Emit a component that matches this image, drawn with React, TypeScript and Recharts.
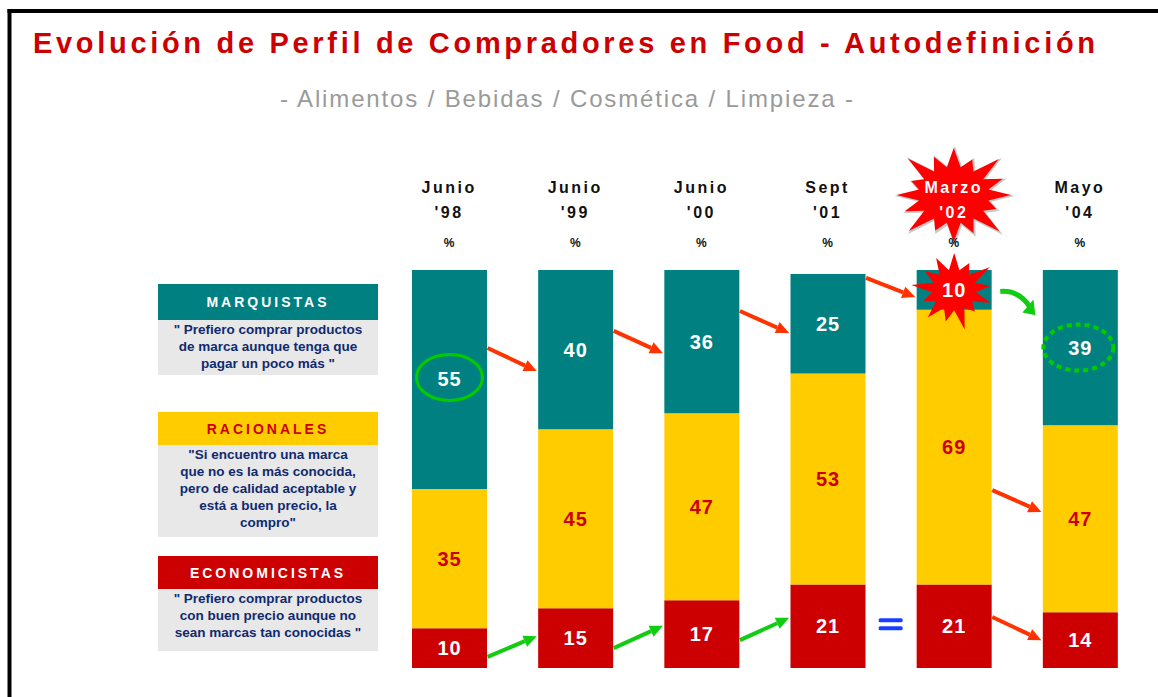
import React from "react"
import { Bar, BarChart, XAxis, YAxis, LabelList } from "recharts"

// datos
const periods = ["Junio '98", "Junio '99", "Junio '00", "Sept '01", "Marzo '02", "Mayo '04"]
const marquistas = [55, 40, 36, 25, 10, 39]
const racionales = [35, 45, 47, 53, 69, 47]
const economicistas = [10, 15, 17, 21, 21, 14]

const TEAL = "#008080"
const YELLOW = "#ffcc00"
const RED = "#cc0000"
const NAVY = "#0f2a70"
const FONT = "'Liberation Sans', Arial, sans-serif"

const data = periods.map((p, i) => ({
  period: p,
  marquistas: marquistas[i],
  racionales: racionales[i],
  economicistas: economicistas[i],
}))

// geometria del area de dibujo
const W = 1158
const H = 697
const PLOT_LEFT = 386
const PLOT_RIGHT = 1143
const PLOT_TOP = 270
const PLOT_BOTTOM = 668
const BAR_W = 75
const STEP = (PLOT_RIGHT - PLOT_LEFT) / periods.length
const barLeft = (i: number) => PLOT_LEFT + STEP * i + (STEP - BAR_W) / 2
const barRight = (i: number) => barLeft(i) + BAR_W
const yPx = (v: number) => PLOT_BOTTOM - (v / 100) * (PLOT_BOTTOM - PLOT_TOP)

// flechas de tendencia (de la barra i a la i+1, alturas en % del eje)
const arrows = [
  { from: 0, y0: 80.4, y1: 74.6, color: "#ff3300" },
  { from: 1, y0: 84.7, y1: 79.1, color: "#ff3300" },
  { from: 2, y0: 89.7, y1: 84.2, color: "#ff3300" },
  { from: 3, y0: 98.0, y1: 93.2, color: "#ff3300" },
  { from: 4, y0: 44.7, y1: 39.2, color: "#ff3300" },
  { from: 4, y0: 12.8, y1: 7.0, color: "#ff3300" },
  { from: 0, y0: 2.8, y1: 8.0, color: "#11cc11" },
  { from: 1, y0: 5.0, y1: 10.6, color: "#11cc11" },
  { from: 2, y0: 7.0, y1: 12.6, color: "#11cc11" },
]

const legends = [
  { title: "MARQUISTAS", bg: TEAL, fg: "#fff", top: 284, head: 36, body: 55,
    text: ["\" Prefiero comprar productos", "de marca aunque tenga que", "pagar un poco más \""] },
  { title: "RACIONALES", bg: YELLOW, fg: RED, top: 412, head: 33, body: 92,
    text: ["\"Si encuentro una marca", "que no es la más conocida,", "pero de calidad aceptable y", "está a buen precio, la", "compro\""] },
  { title: "ECONOMICISTAS", bg: RED, fg: "#fff", top: 556, head: 33, body: 62,
    text: ["\" Prefiero comprar productos", "con buen precio aunque no", "sean marcas tan conocidas \""] },
]

function starPoints(cx: number, cy: number, rx: number, ry: number, n: number, inner: number) {
  const wobble = [1, 0.82, 1.08, 0.9, 0.97, 0.78, 1.1, 0.88]
  const pts: string[] = []
  for (let k = 0; k < n * 2; k++) {
    const a = (Math.PI * k) / n - Math.PI / 2
    const r = k % 2 === 0 ? wobble[(k / 2) % wobble.length] : inner
    pts.push(`${cx + Math.cos(a) * rx * r},${cy + Math.sin(a) * ry * r}`)
  }
  return pts.join(" ")
}

const PeriodTick = (props: any) => {
  const { x, y, payload, index } = props
  const [l1, l2] = String(payload.value).split(" ")
  const special = index === 4
  const color = special ? "#fff" : "#111"
  return (
    <g>
      {special && (
        <>
          <polygon points={starPoints(x + 1, y - 66, 62, 50, 16, 0.6)} fill="#c8c8c8" />
          <polygon points={starPoints(x, y - 67, 59, 47, 16, 0.6)} fill="#ff0000" />
        </>
      )}
      <text x={x} y={y - 69} textAnchor="middle" fontFamily={FONT} fontWeight="bold" fontSize={16} letterSpacing={2.5} fill={color}>
        {l1}
      </text>
      <text x={x} y={y - 44} textAnchor="middle" fontFamily={FONT} fontWeight="bold" fontSize={16} letterSpacing={2.5} fill={color}>
        {l2}
      </text>
      <text x={x} y={y - 15} textAnchor="middle" fontFamily={FONT} fontWeight="bold" fontSize={12} fill="#111">
        %
      </text>
    </g>
  )
}

const makeLabel = (series: string, color: string) => (props: any) => {
  const { x, y, width, height, value, index } = props
  const cx = x + width / 2
  const cy = y + height / 2
  return (
    <g>
      {series === "m" && index === 4 && (
        <polygon points={starPoints(cx, cy, 40, 37, 13, 0.55)} fill="#ff0000" />
      )}
      {series === "m" && index === 0 && (
        <ellipse cx={cx} cy={cy - 2} rx={33} ry={23} fill="none" stroke="#00cc00" strokeWidth={3} />
      )}
      {series === "m" && index === 5 && (
        <ellipse cx={cx - 2} cy={cy} rx={35} ry={23} fill="none" stroke="#00cc00" strokeWidth={4} strokeDasharray="5 4" />
      )}
      <text x={cx} y={cy + 7} textAnchor="middle" fontFamily={FONT} fontWeight="bold" fontSize={20} letterSpacing={1} fill={color}>
        {value}
      </text>
    </g>
  )
}

function Arrow({ x0, y0, x1, y1, color }: { x0: number; y0: number; x1: number; y1: number; color: string }) {
  const ang = Math.atan2(y1 - y0, x1 - x0)
  const len = 13
  const bx = x1 - Math.cos(ang) * len
  const by = y1 - Math.sin(ang) * len
  const px = -Math.sin(ang) * 6
  const py = Math.cos(ang) * 6
  return (
    <g>
      <line x1={x0} y1={y0} x2={bx} y2={by} stroke={color} strokeWidth={4} />
      <polygon points={`${x1},${y1} ${bx + px},${by + py} ${bx - px},${by - py}`} fill={color} />
    </g>
  )
}

export default function App() {
  return (
    <div style={{ position: "absolute", left: 0, top: 0, width: W, height: H, overflow: "hidden", background: "#fff" }}>
      <div style={{ position: "absolute", left: 0, top: 0 }}>
        <BarChart
          width={W}
          height={H}
          data={data}
          margin={{ top: PLOT_TOP - 30, right: W - PLOT_RIGHT, bottom: H - PLOT_BOTTOM, left: PLOT_LEFT }}
          barSize={BAR_W}
        >
          <XAxis dataKey="period" orientation="top" height={30} axisLine={false} tickLine={false} tick={<PeriodTick />} interval={0} />
          <YAxis hide domain={[0, 100]} />
          <Bar dataKey="economicistas" stackId="a" fill={RED} isAnimationActive={false}>
            <LabelList dataKey="economicistas" content={makeLabel("e", "#fff")} />
          </Bar>
          <Bar dataKey="racionales" stackId="a" fill={YELLOW} isAnimationActive={false}>
            <LabelList dataKey="racionales" content={makeLabel("r", RED)} />
          </Bar>
          <Bar dataKey="marquistas" stackId="a" fill={TEAL} isAnimationActive={false}>
            <LabelList dataKey="marquistas" content={makeLabel("m", "#fff")} />
          </Bar>
        </BarChart>
      </div>

      {legends.map((l) => (
        <div key={l.title} style={{ position: "absolute", left: 158, top: l.top, width: 220, fontFamily: FONT }}>
          <div style={{ height: l.head, background: l.bg, color: l.fg, fontWeight: "bold", fontSize: 14, letterSpacing: 3, display: "flex", alignItems: "center", justifyContent: "center" }}>
            {l.title}
          </div>
          <div style={{ height: l.body, background: "#e8e8e8", color: NAVY, fontWeight: "bold", fontSize: 13.5, lineHeight: "17px", textAlign: "center", paddingTop: 1, boxSizing: "border-box", whiteSpace: "nowrap" }}>
            {l.text.map((t, i) => (
              <div key={i}>{t}</div>
            ))}
          </div>
        </div>
      ))}

      <svg width={W} height={H} style={{ position: "absolute", left: 0, top: 0, pointerEvents: "none" }}>
        <rect x={7.5} y={9} width={W} height={4} fill="#000" />
        <rect x={7.5} y={9} width={4} height={H} fill="#000" />
        <text x={33} y={53} textLength={1062} lengthAdjust="spacing" fontFamily={FONT} fontWeight="bold" fontSize={29} fill={RED}>
          Evolución de Perfil de Compradores en Food - Autodefinición
        </text>
        <text x={280} y={107} textLength={573} lengthAdjust="spacing" fontFamily={FONT} fontSize={24} fill="#9a9a9a">
          - Alimentos / Bebidas / Cosmética / Limpieza -
        </text>
        {arrows.map((a, i) => (
          <Arrow key={i} x0={barRight(a.from) + 1} y0={yPx(a.y0)} x1={barLeft(a.from + 1) - 1} y1={yPx(a.y1)} color={a.color} />
        ))}
        {/* flecha curva verde Marzo '02 -> Mayo '04 */}
        <path
          d={`M ${barRight(4) + 9} ${yPx(94.6)} Q ${barRight(4) + 28} ${yPx(95)} ${barLeft(5) - 12} ${yPx(90.5)}`}
          fill="none"
          stroke="#11cc11"
          strokeWidth={5}
        />
        <polygon
          points={`${barLeft(5) - 7},${yPx(88.6)} ${barLeft(5) - 20},${yPx(89.3)} ${barLeft(5) - 9},${yPx(92.6)}`}
          fill="#11cc11"
        />
        {/* signo igual entre Sept '01 y Marzo '02 */}
        <rect x={(barRight(3) + barLeft(4)) / 2 - 12} y={yPx(12) - 2} width={24} height={4} rx={1.5} fill="#1a3cff" />
        <rect x={(barRight(3) + barLeft(4)) / 2 - 12} y={yPx(10) - 2} width={24} height={4} rx={1.5} fill="#1a3cff" />
      </svg>
    </div>
  )
}
